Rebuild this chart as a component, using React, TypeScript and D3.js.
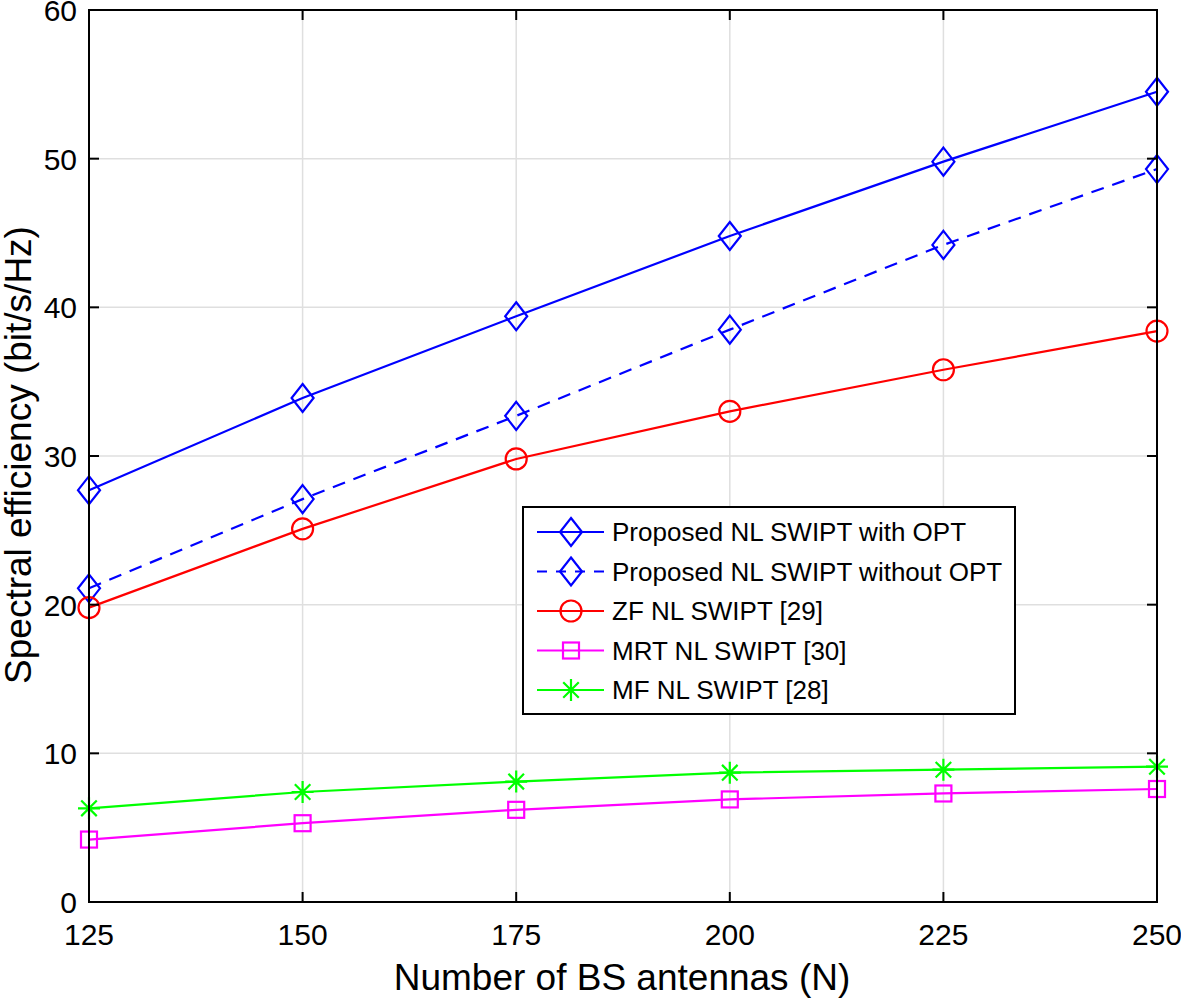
import React from "react";
import * as d3 from "d3";

const antennas = [125, 150, 175, 200, 225, 250];
const withOpt = [27.7, 33.9, 39.4, 44.8, 49.8, 54.5];
const withoutOpt = [21.1, 27.1, 32.7, 38.5, 44.2, 49.3];
const zf = [19.8, 25.1, 29.8, 33.0, 35.8, 38.4];
const mrt = [4.2, 5.3, 6.2, 6.9, 7.3, 7.6];
const mf = [6.3, 7.4, 8.1, 8.7, 8.9, 9.1];
const xTicks = [125, 150, 175, 200, 225, 250];
const yTicks = [0, 10, 20, 30, 40, 50, 60];

type Series = { name: string; values: number[]; color: string; marker: string; dash?: string };
const series: Series[] = [
  { name: "Proposed NL SWIPT with OPT", values: withOpt, color: "#0000ff", marker: "diamond" },
  { name: "Proposed NL SWIPT without OPT", values: withoutOpt, color: "#0000ff", marker: "diamond", dash: "13,9" },
  { name: "ZF NL SWIPT [29]", values: zf, color: "#ff0000", marker: "circle" },
  { name: "MRT NL SWIPT [30]", values: mrt, color: "#ff00ff", marker: "square" },
  { name: "MF NL SWIPT [28]", values: mf, color: "#00ff00", marker: "star" },
];

const L = 89, R = 1157, T = 10, B = 902;
const FONT = "'Liberation Sans', Arial, Helvetica, sans-serif";

function Marker({ type, x, y, color }: { type: string; x: number; y: number; color: string }) {
  const sw = 2.2;
  if (type === "diamond")
    return <path d={`M${x},${y - 14}L${x + 11},${y}L${x},${y + 14}L${x - 11},${y}Z`} fill="none" stroke={color} strokeWidth={sw} />;
  if (type === "circle") return <circle cx={x} cy={y} r={10.5} fill="none" stroke={color} strokeWidth={sw} />;
  if (type === "square") return <rect x={x - 8} y={y - 8} width={16} height={16} fill="none" stroke={color} strokeWidth={sw} />;
  const r = 11;
  const d = [0, 45, 90, 135]
    .map((a) => {
      const rad = (a * Math.PI) / 180;
      const dx = Math.sin(rad) * r, dy = Math.cos(rad) * r;
      return `M${x - dx},${y - dy}L${x + dx},${y + dy}`;
    })
    .join("");
  return <path d={d} stroke={color} strokeWidth={sw} fill="none" />;
}

export default function App() {
  const x = d3.scaleLinear().domain([125, 250]).range([L, R]);
  const y = d3.scaleLinear().domain([0, 60]).range([B, T]);
  const line = d3
    .line<number>()
    .x((_, i) => x(antennas[i]))
    .y((d) => y(d));

  const legX = 523, legY = 507, legW = 492, legH = 207;
  const rowY0 = 532, rowDy = 39.5;

  return (
    <svg width={1181} height={999} style={{ position: "absolute", left: 0, top: 0 }} fontFamily={FONT}>
      <rect x={0} y={0} width={1181} height={999} fill="#fff" />
      {xTicks.map((t) => (
        <line key={"gx" + t} x1={x(t)} x2={x(t)} y1={T} y2={B} stroke="#dfdfdf" strokeWidth={1.5} />
      ))}
      {yTicks.map((t) => (
        <line key={"gy" + t} x1={L} x2={R} y1={y(t)} y2={y(t)} stroke="#dfdfdf" strokeWidth={1.5} />
      ))}
      {series.map((s) => (
        <g key={s.name}>
          <path d={line(s.values) || ""} fill="none" stroke={s.color} strokeWidth={2.2} strokeDasharray={s.dash} />
          {s.values.map((v, i) => (
            <Marker key={i} type={s.marker} x={x(antennas[i])} y={y(v)} color={s.color} />
          ))}
        </g>
      ))}
      <rect x={L} y={T} width={R - L} height={B - T} fill="none" stroke="#000" strokeWidth={2} />
      {xTicks.map((t) => (
        <g key={"tx" + t}>
          <line x1={x(t)} x2={x(t)} y1={B} y2={B - 10} stroke="#000" strokeWidth={2} />
          <line x1={x(t)} x2={x(t)} y1={T} y2={T + 10} stroke="#000" strokeWidth={2} />
          <text x={x(t)} y={945} fontSize={30} textAnchor="middle" fill="#000">
            {t}
          </text>
        </g>
      ))}
      {yTicks.map((t) => (
        <g key={"ty" + t}>
          <line x1={L} x2={L + 10} y1={y(t)} y2={y(t)} stroke="#000" strokeWidth={2} />
          <line x1={R} x2={R - 10} y1={y(t)} y2={y(t)} stroke="#000" strokeWidth={2} />
          <text x={77} y={y(t) + 11} fontSize={30} textAnchor="end" fill="#000">
            {t}
          </text>
        </g>
      ))}
      <text x={622} y={990} fontSize={37} textAnchor="middle" fill="#000">
        Number of BS antennas (N)
      </text>
      <text transform={`translate(31,455) rotate(-90)`} fontSize={37} textAnchor="middle" fill="#000">
        Spectral efficiency (bit/s/Hz)
      </text>
      <rect x={legX} y={legY} width={legW} height={legH} fill="#fff" stroke="#000" strokeWidth={2} />
      {series.map((s, i) => {
        const cy = rowY0 + i * rowDy;
        return (
          <g key={"leg" + i}>
            <line x1={537} x2={604} y1={cy} y2={cy} stroke={s.color} strokeWidth={2.2} strokeDasharray={s.dash ? "10,9" : undefined} />
            <Marker type={s.marker} x={571} y={cy} color={s.color} />
            <text x={612} y={cy + 9} fontSize={26} fill="#000">
              {s.name}
            </text>
          </g>
        );
      })}
    </svg>
  );
}
